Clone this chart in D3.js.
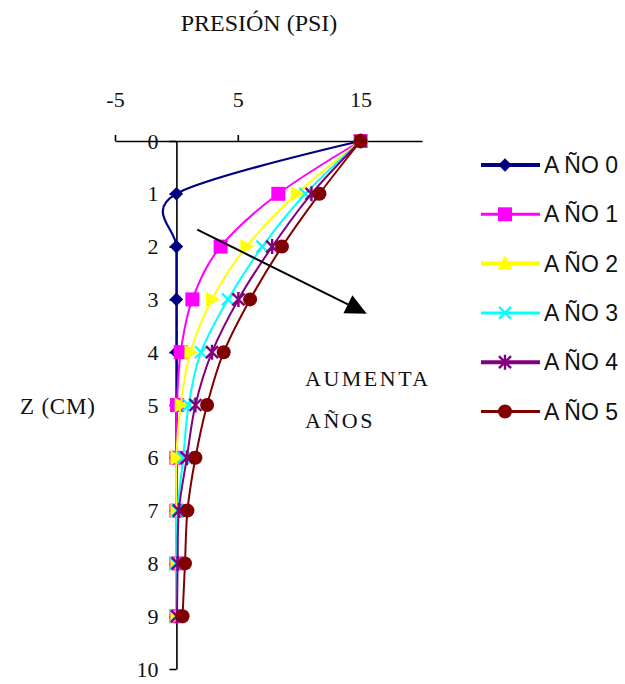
<!DOCTYPE html>
<html><head><meta charset="utf-8">
<script src="https://cdn.jsdelivr.net/npm/d3@7"></script>
<style>body{margin:0;background:#fff}svg{display:block}</style>
</head><body>
<svg id="c" width="625" height="684"></svg>
<script>
// ---- data ----
const depths = [0, 1, 2, 3, 4, 5, 6, 7, 8, 9];
const seriesNames = ["AÑO 0", "AÑO 1", "AÑO 2", "AÑO 3", "AÑO 4", "AÑO 5"];
const ano0 = [15, 0, 0, 0, 0, 0, 0, 0, 0, 0];
const ano1 = [15, 8.3, 3.6, 1.3, 0.35, 0.05, 0, 0, 0, 0];
const ano2 = [15, 9.8, 5.7, 2.9, 1.15, 0.35, 0, 0, 0, 0];
const ano3 = [15, 10.5, 7.0, 4.2, 2.0, 1.0, 0.55, 0.1, 0, 0];
const ano4 = [15, 11.0, 7.8, 5.05, 2.9, 1.55, 0.85, 0.2, 0.1, 0.05];
const ano5 = [15, 11.65, 8.6, 6.0, 3.85, 2.5, 1.55, 0.9, 0.7, 0.5];
const xTicks = [-5, 5, 15];
const yTicks = [0, 1, 2, 3, 4, 5, 6, 7, 8, 9, 10];
const xTitle = "PRESIÓN (PSI)";
const yTitle = "Z (CM)";
const noteLines = ["AUMENTA", "AÑOS"];
const arrowFrom = [1.7, 1.68];   // [presión, z]
const arrowTo = [15.5, 3.27];

const allSeries = [ano0, ano1, ano2, ano3, ano4, ano5];
const colors = ["#000080", "#ff00ff", "#ffff00", "#00ffff", "#800080", "#800000"];
const shapes = ["diamond", "square", "triangle", "x", "asterisk", "circle"];
const lineW = [2.2, 2, 2, 2, 2, 2];
const legW = [4, 3, 4.5, 3, 4, 3];

const svg = d3.select("#c");
const x = d3.scaleLinear().domain([-5, 20]).range([115, 422]);
const y = d3.scaleLinear().domain([0, 10]).range([141, 669]);
const serif = "'Liberation Serif','Times New Roman',serif";
const sans = "'Liberation Sans',Arial,sans-serif";
const ink = "#111";

// axes
const xa = svg.append("g").attr("transform", `translate(0,${y(0)})`)
  .call(d3.axisTop(x).tickValues(xTicks).tickFormat(d => String(d)).tickSize(6).tickPadding(28).tickSizeOuter(0));
const ya = svg.append("g").attr("transform", `translate(${x(0)},0)`)
  .call(d3.axisLeft(y).tickValues(yTicks).tickFormat(d => String(d)).tickSize(7).tickPadding(11).tickSizeOuter(0));
[xa, ya].forEach(a => {
  a.select(".domain").attr("stroke", "#000").attr("stroke-width", 1.6);
  a.selectAll(".tick line").attr("stroke", "#000").attr("stroke-width", 1.6);
  a.selectAll(".tick text").attr("fill", ink).style("font-family", serif).style("font-size", "22px");
});

// symbol drawer
function drawMarker(g, shape, color, cx, cy, legend) {
  const s = 6.8;
  if (shape === "diamond") {
    g.append("path").attr("d", `M${cx},${cy - s}L${cx + s},${cy}L${cx},${cy + s}L${cx - s},${cy}Z`).attr("fill", color);
  } else if (shape === "square") {
    g.append("rect").attr("x", cx - 7).attr("y", cy - 7).attr("width", 14).attr("height", 14).attr("fill", color);
  } else if (shape === "triangle") {
    if (legend) g.append("path").attr("d", `M${cx},${cy - 8}L${cx + 7.5},${cy + 6}L${cx - 7.5},${cy + 6}Z`).attr("fill", color);
    else g.append("path").attr("d", `M${cx - 6},${cy - 7.5}L${cx + 8},${cy}L${cx - 6},${cy + 7.5}Z`).attr("fill", color);
  } else if (shape === "x") {
    g.append("path").attr("d", `M${cx - 6},${cy - 6}L${cx + 6},${cy + 6}M${cx - 6},${cy + 6}L${cx + 6},${cy - 6}`)
      .attr("stroke", color).attr("stroke-width", 2.2);
  } else if (shape === "asterisk") {
    g.append("path").attr("d", `M${cx - 6},${cy - 6}L${cx + 6},${cy + 6}M${cx - 6},${cy + 6}L${cx + 6},${cy - 6}M${cx},${cy - 7.5}L${cx},${cy + 7.5}`)
      .attr("stroke", color).attr("stroke-width", 2.4);
  } else if (shape === "circle") {
    g.append("circle").attr("cx", cx).attr("cy", cy).attr("r", 7).attr("fill", color);
  }
}

// series
const line = d3.line().x(d => x(d[0])).y(d => y(d[1])).curve(d3.curveCardinal.tension(0));
allSeries.forEach((vals, i) => {
  const pts = vals.map((v, j) => [v, depths[j]]);
  const g = svg.append("g");
  g.append("path").attr("d", line(pts)).attr("fill", "none")
    .attr("stroke", colors[i]).attr("stroke-width", lineW[i]);
  pts.forEach(p => drawMarker(g, shapes[i], colors[i], x(p[0]), y(p[1]), false));
});

// arrow annotation
const ax1 = x(arrowFrom[0]), ay1 = y(arrowFrom[1]), ax2 = x(arrowTo[0]), ay2 = y(arrowTo[1]);
const ang = Math.atan2(ay2 - ay1, ax2 - ax1);
const hl = 21, hw = 10;
const bx = ax2 - hl * Math.cos(ang), by = ay2 - hl * Math.sin(ang);
svg.append("line").attr("x1", ax1).attr("y1", ay1).attr("x2", bx).attr("y2", by)
  .attr("stroke", "#000").attr("stroke-width", 2);
svg.append("path").attr("d",
  `M${ax2},${ay2}L${bx - hw * Math.sin(ang)},${by + hw * Math.cos(ang)}L${bx + hw * Math.sin(ang)},${by - hw * Math.cos(ang)}Z`)
  .attr("fill", "#000");

// note text
noteLines.forEach((t, i) => {
  svg.append("text").attr("x", 305).attr("y", 386 + i * 42).text(t)
    .style("font-family", serif).style("font-size", "22px").style("letter-spacing", "2.5px").attr("fill", ink);
});

// titles
svg.append("text").attr("x", 259).attr("y", 31).attr("text-anchor", "middle").text(xTitle)
  .style("font-family", serif).style("font-size", "24px").attr("fill", ink);
svg.append("text").attr("x", 20).attr("y", 414).text(yTitle)
  .style("font-family", serif).style("font-size", "23px").style("letter-spacing", "0.8px").attr("fill", ink);

// legend
seriesNames.forEach((n, i) => {
  const ly = 165 + i * 49.3;
  const g = svg.append("g");
  g.append("line").attr("x1", 481).attr("x2", 540).attr("y1", ly).attr("y2", ly)
    .attr("stroke", colors[i]).attr("stroke-width", legW[i]);
  drawMarker(g, shapes[i], colors[i], 505, ly, true);
  const t = g.append("text").attr("x", 544).attr("y", ly + 8)
    .style("font-family", sans).style("font-size", "23px").attr("fill", ink);
  t.append("tspan").text(n.slice(0, 1));
  t.append("tspan").attr("dx", 5).text(n.slice(1));
});
</script>
</body></html>
